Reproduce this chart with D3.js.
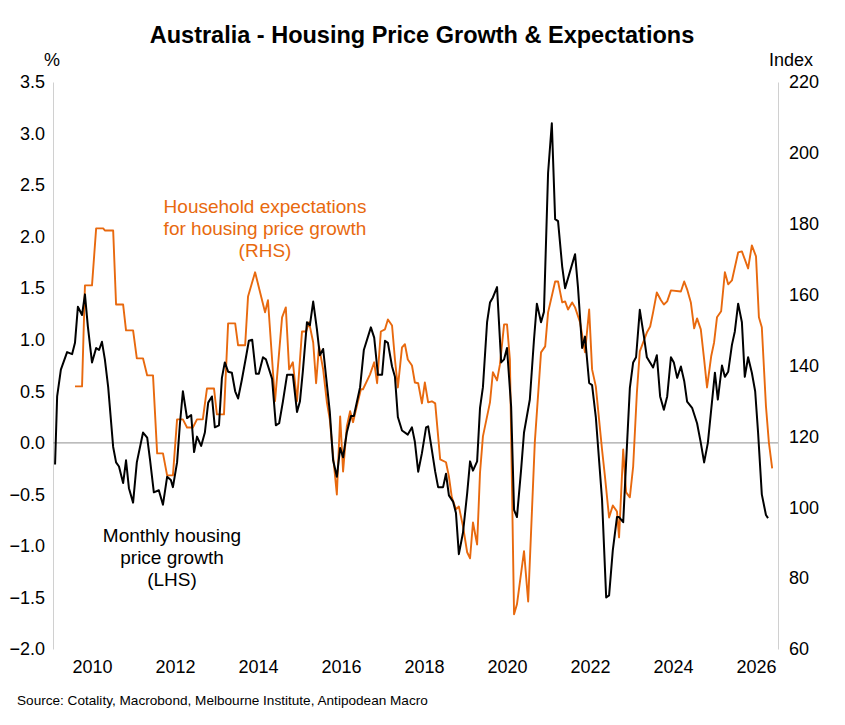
<!DOCTYPE html>
<html><head><meta charset="utf-8">
<script src="https://cdn.jsdelivr.net/npm/d3@7"></script>
<style>body{margin:0;background:#fff}text{font-family:"Liberation Sans",Arial,sans-serif}</style>
</head><body><svg id="c" width="845" height="725"></svg>
<script>
const hpgDates=[2009.11,2009.16,2009.25,2009.40,2009.52,2009.59,2009.66,2009.76,2009.83,2009.90,2010.00,2010.10,2010.17,2010.24,2010.31,2010.39,2010.51,2010.58,2010.65,2010.75,2010.82,2010.89,2010.99,2011.08,2011.23,2011.33,2011.40,2011.49,2011.61,2011.71,2011.81,2011.90,2011.95,2012.05,2012.12,2012.19,2012.29,2012.39,2012.46,2012.53,2012.63,2012.72,2012.80,2012.89,2012.96,2013.06,2013.13,2013.20,2013.28,2013.37,2013.45,2013.52,2013.61,2013.71,2013.78,2013.86,2013.95,2014.02,2014.12,2014.19,2014.34,2014.43,2014.51,2014.60,2014.70,2014.84,2014.94,2015.01,2015.08,2015.18,2015.25,2015.33,2015.42,2015.49,2015.57,2015.73,2015.81,2015.90,2015.98,2016.05,2016.14,2016.24,2016.31,2016.46,2016.55,2016.72,2016.80,2016.89,2016.99,2017.06,2017.13,2017.23,2017.30,2017.37,2017.47,2017.61,2017.71,2017.78,2017.86,2017.95,2018.05,2018.10,2018.19,2018.27,2018.34,2018.46,2018.53,2018.60,2018.70,2018.77,2018.84,2018.94,2019.04,2019.11,2019.18,2019.28,2019.35,2019.42,2019.52,2019.59,2019.66,2019.76,2019.86,2019.93,2020.00,2020.10,2020.17,2020.24,2020.34,2020.41,2020.55,2020.65,2020.72,2020.82,2020.89,2020.99,2021.08,2021.16,2021.23,2021.33,2021.40,2021.64,2021.71,2021.81,2021.88,2021.98,2022.05,2022.14,2022.29,2022.39,2022.46,2022.55,2022.65,2022.70,2022.80,2022.87,2022.96,2023.04,2023.11,2023.20,2023.30,2023.37,2023.52,2023.61,2023.69,2023.78,2023.86,2023.95,2024.02,2024.10,2024.19,2024.27,2024.34,2024.46,2024.58,2024.67,2024.75,2024.84,2024.94,2025.01,2025.08,2025.18,2025.25,2025.33,2025.42,2025.49,2025.57,2025.66,2025.73,2025.81,2025.90,2025.98,2026.05,2026.14,2026.24,2026.29];
const hpgValues=[-0.21,0.45,0.71,0.88,0.86,0.97,1.32,1.24,1.44,1.13,0.78,0.92,0.90,0.98,0.81,0.54,-0.04,-0.19,-0.23,-0.39,-0.17,-0.44,-0.58,-0.19,0.10,0.05,-0.17,-0.48,-0.46,-0.60,-0.33,-0.36,-0.43,-0.19,0.19,0.50,0.24,0.27,-0.09,0.06,-0.03,0.10,0.39,0.45,0.15,0.17,0.63,0.78,0.69,0.68,0.50,0.43,0.61,0.83,0.99,1.00,0.67,0.67,0.83,0.81,0.62,0.17,0.19,0.40,0.66,0.66,0.30,0.40,0.69,1.17,1.14,1.37,1.10,0.85,0.91,0.30,-0.17,-0.33,-0.05,-0.14,0.10,0.26,0.26,0.54,0.90,1.12,1.02,0.66,0.66,0.99,0.97,0.74,0.64,0.25,0.12,0.08,0.15,0.01,-0.28,-0.10,0.15,0.16,-0.07,-0.28,-0.43,-0.43,-0.30,-0.51,-0.57,-0.68,-1.08,-0.87,-0.49,-0.18,-0.27,-0.18,0.34,0.54,1.17,1.36,1.41,1.51,0.78,0.81,0.92,0.35,-0.65,-0.72,-0.26,0.10,0.42,1.00,1.35,1.17,1.27,2.62,3.10,2.17,2.15,1.71,1.50,1.83,1.51,0.92,1.03,0.58,0.56,0.25,-0.55,-1.50,-1.48,-1.04,-0.72,-0.72,-0.77,-0.19,0.53,0.78,0.83,1.29,1.03,0.83,0.73,0.85,0.45,0.32,0.45,0.83,0.78,0.63,0.74,0.60,0.40,0.34,0.19,0.00,-0.19,0.00,0.40,0.68,0.42,0.75,0.64,0.69,0.95,1.08,1.35,1.17,0.64,0.83,0.68,0.50,0.10,-0.50,-0.70,-0.73];
const expDates=[2009.59,2009.76,2009.83,2010.00,2010.10,2010.27,2010.31,2010.51,2010.58,2010.75,2010.82,2010.99,2011.08,2011.23,2011.33,2011.47,2011.57,2011.71,2011.81,2011.95,2012.05,2012.19,2012.29,2012.43,2012.53,2012.67,2012.77,2012.94,2013.01,2013.18,2013.28,2013.45,2013.52,2013.69,2013.76,2013.93,2014.17,2014.24,2014.41,2014.58,2014.67,2014.75,2014.84,2014.94,2015.06,2015.16,2015.23,2015.33,2015.40,2015.47,2015.57,2015.66,2015.73,2015.81,2015.90,2015.98,2016.05,2016.14,2016.22,2016.29,2016.39,2016.48,2016.53,2016.70,2016.80,2016.87,2016.96,2017.06,2017.13,2017.23,2017.30,2017.37,2017.47,2017.54,2017.61,2017.71,2017.78,2017.86,2017.95,2018.02,2018.10,2018.19,2018.27,2018.39,2018.53,2018.60,2018.67,2018.77,2018.84,2018.94,2019.04,2019.11,2019.18,2019.28,2019.35,2019.42,2019.59,2019.66,2019.76,2019.83,2019.93,2020.00,2020.07,2020.17,2020.24,2020.41,2020.51,2020.67,2020.82,2020.92,2020.99,2021.16,2021.23,2021.33,2021.40,2021.47,2021.57,2021.64,2021.76,2021.88,2021.98,2022.05,2022.14,2022.29,2022.36,2022.46,2022.55,2022.65,2022.70,2022.80,2022.87,2022.96,2023.04,2023.13,2023.20,2023.37,2023.45,2023.52,2023.61,2023.71,2023.78,2023.86,2023.95,2024.19,2024.27,2024.34,2024.43,2024.51,2024.58,2024.67,2024.75,2024.82,2024.92,2024.99,2025.06,2025.16,2025.25,2025.33,2025.42,2025.57,2025.66,2025.81,2025.90,2026.00,2026.07,2026.14,2026.24,2026.31,2026.39];
const expValues=[134.1,134.1,162.6,162.6,178.7,178.7,178.1,178.1,157.2,157.2,149.9,149.9,142.0,142.0,137.2,137.2,115.2,115.2,109.0,109.0,124.8,124.8,122.5,122.5,124.8,124.8,133.5,133.5,126.2,126.2,151.9,151.9,145.7,145.7,159.5,166.3,155.0,158.4,129.9,153.6,156.4,138.9,140.9,129.9,149.6,149.6,152.2,146.5,135.0,145.4,138.9,129.6,124.8,114.4,103.6,125.6,110.1,122.8,127.1,124.0,129.0,133.3,133.3,137.5,140.9,135.0,149.6,150.2,153.0,151.3,141.7,133.8,145.1,146.0,141.7,140.0,135.2,135.0,129.3,135.2,129.6,129.9,129.3,113.5,112.7,108.7,102.8,99.4,100.2,94.6,87.3,85.6,95.7,89.5,109.8,120.0,129.6,138.1,135.8,140.3,151.6,151.6,141.7,69.8,72.6,87.6,73.4,118.3,143.7,145.4,155.0,163.7,163.7,157.8,158.1,155.8,157.8,156.4,152.2,143.7,155.8,138.9,134.1,116.3,108.7,97.1,100.5,98.8,91.5,116.3,104.2,102.8,111.5,132.4,144.0,149.3,151.0,155.0,160.6,158.4,157.2,158.1,161.2,160.9,163.7,161.5,157.8,150.5,153.3,150.2,141.7,133.8,142.6,146.5,153.6,155.3,166.3,162.9,164.0,171.9,172.2,167.4,173.9,170.8,153.6,150.8,128.5,118.3,111.0];
const leftTicks=[-2.0,-1.5,-1.0,-0.5,0.0,0.5,1.0,1.5,2.0,2.5,3.0,3.5];
const rightTicks=[60,80,100,120,140,160,180,200,220];
const yearTicks=[2010,2012,2014,2016,2018,2020,2022,2024,2026];

const svg=d3.select("#c");
const x=d3.scaleLinear().domain([2010,2026]).range([92,756]);
const yL=d3.scaleLinear().domain([-2,3.5]).range([649,82]);
const yR=d3.scaleLinear().domain([60,220]).range([649,82]);

svg.append("text").attr("x",422).attr("y",43).attr("text-anchor","middle").attr("font-size",23.5).attr("font-weight","bold").text("Australia - Housing Price Growth & Expectations");
svg.append("text").attr("x",52).attr("y",66).attr("text-anchor","middle").attr("font-size",18).text("%");
svg.append("text").attr("x",791).attr("y",66).attr("text-anchor","middle").attr("font-size",18).text("Index");

const gL=svg.append("g").attr("transform","translate(53,0)").call(d3.axisLeft(yL).tickValues(leftTicks).tickFormat(d3.format(".1f")).tickSize(0).tickPadding(8));
const gR=svg.append("g").attr("transform","translate(778,0)").call(d3.axisRight(yR).tickValues(rightTicks).tickSize(0).tickPadding(11));
const gX=svg.append("g").attr("transform","translate(0,652)").call(d3.axisBottom(x).tickValues(yearTicks).tickFormat(d3.format("d")).tickSize(0).tickPadding(8));
[gL,gR,gX].forEach(g=>{g.selectAll("text").attr("font-size",18).attr("fill","#000").attr("font-family","Liberation Sans, Arial");g.select(".domain").attr("stroke","#d0d0d0");});
gX.select(".domain").remove();

svg.append("line").attr("x1",53).attr("x2",778).attr("y1",yL(0)).attr("y2",yL(0)).attr("stroke","#a6a6a6").attr("stroke-width",1.2);

const lineL=d3.line().x((d,i)=>x(hpgDates[i])).y(d=>yL(d));
const lineR=d3.line().x((d,i)=>x(expDates[i])).y(d=>yR(d));
svg.append("path").attr("d",lineR(expValues)).attr("fill","none").attr("stroke","#E8690E").attr("stroke-width",1.9).attr("stroke-linejoin","round");
svg.append("path").attr("d",lineL(hpgValues)).attr("fill","none").attr("stroke","#000").attr("stroke-width",2).attr("stroke-linejoin","round");

const oLab=["Household expectations","for housing price growth","(RHS)"];
oLab.forEach((t,i)=>svg.append("text").attr("x",265).attr("y",213+i*22).attr("text-anchor","middle").attr("font-size",19).attr("fill","#E8690E").text(t));
const bLab=["Monthly housing","price growth","(LHS)"];
bLab.forEach((t,i)=>svg.append("text").attr("x",172).attr("y",542+i*22).attr("text-anchor","middle").attr("font-size",19).attr("fill","#000").text(t));

svg.append("text").attr("x",17).attr("y",705).attr("font-size",13.6).attr("fill","#000").text("Source: Cotality, Macrobond, Melbourne Institute, Antipodean Macro");
</script></body></html>
